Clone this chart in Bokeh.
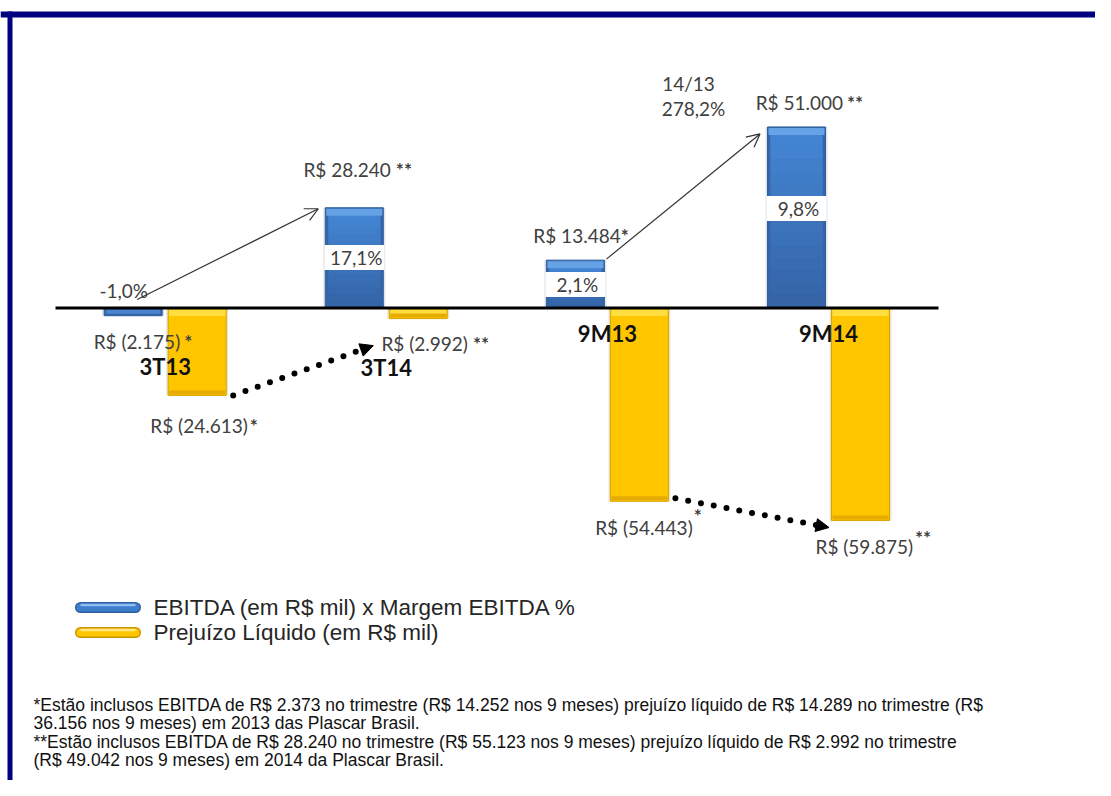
from bokeh.plotting import figure
from bokeh.models import Range1d, Label, Arrow, NormalHead, OpenHead, ColumnDataSource
from bokeh.embed import file_html
from bokeh.resources import INLINE

# ---------------- data ----------------
groups = ["3T13", "3T14", "9M13", "9M14"]
ebitda = [-2.175, 28.240, 13.484, 51.000]          # R$ mil (thousands)
prejuizo = [-24.613, -2.992, -54.443, -59.875]     # R$ mil (thousands)
margem = ["-1,0%", "17,1%", "2,1%", "9,8%"]
ebitda_txt = ["R$ (2.175)", "R$ 28.240", "R$ 13.484", "R$ 51.000"]
ebitda_star = ["*", "**", "*", "**"]
prejuizo_txt = ["R$ (24.613)", "R$ (2.992)", "R$ (54.443)", "R$ (59.875)"]
prejuizo_star = ["*", "**", "*", "**"]
growth_label = ["14/13", "278,2%"]
legend_labels = ["EBITDA (em R$ mil) x Margem EBITDA %", "Prejuízo Líquido (em R$ mil)"]
footnotes = [
    "*Estão inclusos EBITDA de R$ 2.373 no trimestre (R$ 14.252 nos 9 meses) prejuízo líquido de R$ 14.289 no trimestre (R$",
    "36.156 nos 9 meses) em 2013 das Plascar Brasil.",
    "**Estão inclusos EBITDA de R$ 28.240 no trimestre (R$ 55.123 nos 9 meses) prejuízo líquido de R$ 2.992 no trimestre",
    "(R$ 49.042 nos 9 meses) em 2014 da Plascar Brasil.",
]

# ---------------- geometry ----------------
W, H = 1095, 780
SX = 221.1          # px per group
SY = 3.55           # px per R$ mil
GX0 = 164.7         # canvas px of first group centre
BASE = 307.5        # canvas px (from top) of zero line
x0 = -GX0 / SX
x1 = x0 + W / SX
y1 = BASE / SY
y0 = y1 - H / SY


def px(d):
    return d / SX


def py(d):
    return d / SY


def IX(x):  # canvas pixel -> data
    return x0 + x / SX


def IY(y):
    return y1 - y / SY


BW = px(58)
OFF = px(32)
xb = [i - OFF for i in range(len(groups))]
xy = [i + OFF for i in range(len(groups))]

p = figure(width=W, height=H, output_backend="svg", toolbar_location=None,
           x_range=Range1d(x0, x1), y_range=Range1d(y0, y1),
           min_border=0, outline_line_color=None, background_fill_color="white")
p.axis.visible = False
p.grid.visible = False

LBL = "Lato"
GRAY = "#404040"

# frame (navy)
p.quad(left=[IX(0)], right=[IX(1111)], top=[IY(11)], bottom=[IY(17)], fill_color="#000080", line_color=None)
p.quad(left=[IX(7)], right=[IX(12)], top=[IY(11)], bottom=[IY(800)], fill_color="#000080", line_color=None)

# ---------------- bars ----------------
blue_src = ColumnDataSource(dict(x=xb, top=[max(v, 0) for v in ebitda], bottom=[min(v, 0) for v in ebitda]))
yel_src = ColumnDataSource(dict(x=xy, top=[max(v, 0) for v in prejuizo], bottom=[min(v, 0) for v in prejuizo]))

# soft shadows
p.vbar(x="x", width=BW + px(4), top="top", bottom="bottom", source=blue_src, fill_color="#9aa7b8", fill_alpha=0.3, line_color=None)
p.vbar(x="x", width=BW + px(4), top="top", bottom="bottom", source=yel_src, fill_color="#b8a670", fill_alpha=0.3, line_color=None)
# main fills
p.vbar(x="x", width=BW, top="top", bottom="bottom", source=blue_src, fill_color="#3565a8", line_color="#2f5f9e", line_width=1)
p.vbar(x="x", width=BW, top="top", bottom="bottom", source=yel_src, fill_color="#ffc600", line_color="#d9a400", line_width=1)


def mix(c1, c2, t):
    a = [int(c1[i:i + 2], 16) for i in (1, 3, 5)]
    b = [int(c2[i:i + 2], 16) for i in (1, 3, 5)]
    return "#%02x%02x%02x" % tuple(round(a[k] + (b[k] - a[k]) * t) for k in range(3))


# smooth vertical shading inside the blue bars (top lighter -> bottom darker)
NS = 14
gx, gt, gb, gc = [], [], [], []
for i, v in enumerate(ebitda):
    if v <= 0:
        continue
    inner_top = v - py(8)
    for k in range(NS):
        t0 = k / NS
        t1 = (k + 1) / NS
        gx.append(xb[i])
        gt.append(inner_top - (inner_top) * t0)
        gb.append(inner_top - (inner_top) * t1)
        gc.append(mix("#4384d2", "#3462a4", t0))
p.vbar(x=gx, width=BW - px(6), top=gt, bottom=gb, fill_color=gc, line_color=gc, line_width=0.5)
# small negative blue bar body
p.vbar(x=[xb[i] for i in range(4) if ebitda[i] < 0], width=BW - px(4), top=[-py(1.5) for v in ebitda if v < 0],
       bottom=[v + py(2) for v in ebitda if v < 0], fill_color="#4a86d0", line_color=None)
# top bevels
p.vbar(x=[xb[i] for i in range(4) if ebitda[i] > 0], width=BW - px(2),
       top=[v - py(1) for v in ebitda if v > 0], bottom=[v - py(8) for v in ebitda if v > 0],
       fill_color="#66a2e6", line_color=None)
p.vbar(x=xy, width=BW - px(2), top=[-py(1.5)] * 4, bottom=[max(v + py(2), -py(8)) for v in prejuizo],
       fill_color="#ffdf40", line_color=None)
p.vbar(x=xy, width=BW - px(2), top=[v + py(5) for v in prejuizo], bottom=[v + py(1) for v in prejuizo],
       fill_color="#e6ab00", line_color=None)

# zero line
p.line([IX(55), IX(938)], [0, 0], line_color="black", line_width=3)

# ---------------- margin bands & labels ----------------
band_y = [None, IY(257), IY(284), IY(208)]
for i in (1, 2, 3):
    p.quad(left=[xb[i] - BW / 2 - px(1)], right=[xb[i] + BW / 2 + px(1)],
           top=[band_y[i] + py(12.5)], bottom=[band_y[i] - py(12.5)], fill_color="white", line_color=None)
    p.add_layout(Label(x=xb[i] + px(2), y=band_y[i], text=margem[i], text_align="center", text_baseline="middle",
                       text_font=LBL, text_font_size="19px", text_color=GRAY))
p.add_layout(Label(x=xb[0] - px(9.5), y=py(17.5), text=margem[0], text_align="center", text_baseline="middle",
                   text_font=LBL, text_font_size="19px", text_color=GRAY))


def value_label(x, y, t, star, gap, sup):
    p.add_layout(Label(x=x, y=y, text=t, text_align="right", text_baseline="middle",
                       text_font=LBL, text_font_size="19px", text_color=GRAY))
    p.add_layout(Label(x=x + px(gap), y=y + py(sup), text=star, text_align="left", text_baseline="middle",
                       text_font=LBL, text_font_size="19px", text_font_style="bold", text_color=GRAY))


# EBITDA value labels: (right edge offset px, vertical offset px, star gap, superscript)
e_lay = [(47, -26, 4, 0), (36.5, 38, 5, 0), (45.3, 24.6, 0, 0), (46.5, 24, 4, 0)]
for i, (dx, dy, gap, sup) in enumerate(e_lay):
    value_label(xb[i] + px(dx), ebitda[i] + py(dy), ebitda_txt[i], ebitda_star[i], gap, sup)

# Prejuizo value labels
l_lay = [(50.6, -30, 2, 0), (49.6, -25, 5, 0), (53.3, -26, 1, 12), (52.5, -26, 2, 9)]
for i, (dx, dy, gap, sup) in enumerate(l_lay):
    value_label(xy[i] + px(dx), prejuizo[i] + py(dy), prejuizo_txt[i], prejuizo_star[i], gap, sup)

# category labels
cat_drop = [58.5, 59.5, 25.5, 25.5]
for i, g in enumerate(groups):
    p.add_layout(Label(x=i, y=-py(cat_drop[i]), text=g, text_align="center", text_baseline="middle",
                       text_font=LBL, text_font_size="22px", text_font_style="bold", text_color="#111111"))

# growth label
p.add_layout(Label(x=IX(688), y=IY(83), text=growth_label[0], text_align="center", text_baseline="middle",
                   text_font=LBL, text_font_size="19px", text_color=GRAY))
p.add_layout(Label(x=IX(693), y=IY(108), text=growth_label[1], text_align="center", text_baseline="middle",
                   text_font=LBL, text_font_size="19px", text_color=GRAY))

# ---------------- arrows ----------------
p.add_layout(Arrow(x_start=xb[0] + px(4), y_start=py(8.5), x_end=xb[1] - BW / 2 - px(7), y_end=ebitda[1] - py(1),
                   line_color="#333333", line_width=1.2,
                   end=OpenHead(size=13, line_color="#333333", line_width=1.2)))
p.add_layout(Arrow(x_start=xb[2] + BW / 2 + px(2), y_start=ebitda[2] + py(1), x_end=xb[3] - BW / 2 - px(7.5),
                   y_end=ebitda[3] - py(7), line_color="#333333", line_width=1.2,
                   end=OpenHead(size=13, line_color="#333333", line_width=1.2)))

# dotted arrows: dotted line + solid head
dots = [((xy[0] + BW / 2 + px(7), prejuizo[0]), (xy[1] - BW / 2 - px(16), prejuizo[1] - py(27))),
        ((xy[2] + BW / 2 + px(7), prejuizo[2] + py(3)), (xy[3] - BW / 2 - px(2.5), prejuizo[3] - py(7)))]
for (xs, ys), (xe, ye) in dots:
    f = 0.93
    p.line([xs, xs + (xe - xs) * f], [ys, ys + (ye - ys) * f], line_color="black", line_width=6,
           line_dash="0 13", line_cap="round")
    g = 0.97
    p.add_layout(Arrow(x_start=xs + (xe - xs) * g, y_start=ys + (ye - ys) * g, x_end=xe, y_end=ye,
                       line_color="black", line_alpha=0.0, line_width=1,
                       end=NormalHead(size=13, fill_color="black", line_color="black", line_width=1)))

# ---------------- legend ----------------
leg_y = [IY(607), IY(632)]
leg_cols = [("#2f5f9e", "#3f7ecb", "#8dbdf2"), ("#c79500", "#ffc600", "#ffe680")]
for yv, (c_dark, c_mid, c_light), txt in zip(leg_y, leg_cols, legend_labels):
    p.line([IX(80), IX(135)], [yv, yv], line_color=c_dark, line_width=11, line_cap="round")
    p.line([IX(80), IX(135)], [yv, yv], line_color=c_mid, line_width=8, line_cap="round")
    p.line([IX(81), IX(134)], [yv + py(2.5), yv + py(2.5)], line_color=c_light, line_width=2.5, line_cap="round")
    p.add_layout(Label(x=IX(153), y=yv, text=txt, text_align="left", text_baseline="middle",
                       text_font="Liberation Sans", text_font_size="22.5px", text_color="#262626"))

# ---------------- footnotes ----------------
for yimg, t in zip([704, 722, 741, 759], footnotes):
    p.add_layout(Label(x=IX(33), y=IY(yimg), text=t, text_align="left", text_baseline="middle",
                       text_font="Liberation Sans", text_font_size="17.5px", text_color="#111111"))

open("out.html", "w").write(file_html(p, INLINE))
